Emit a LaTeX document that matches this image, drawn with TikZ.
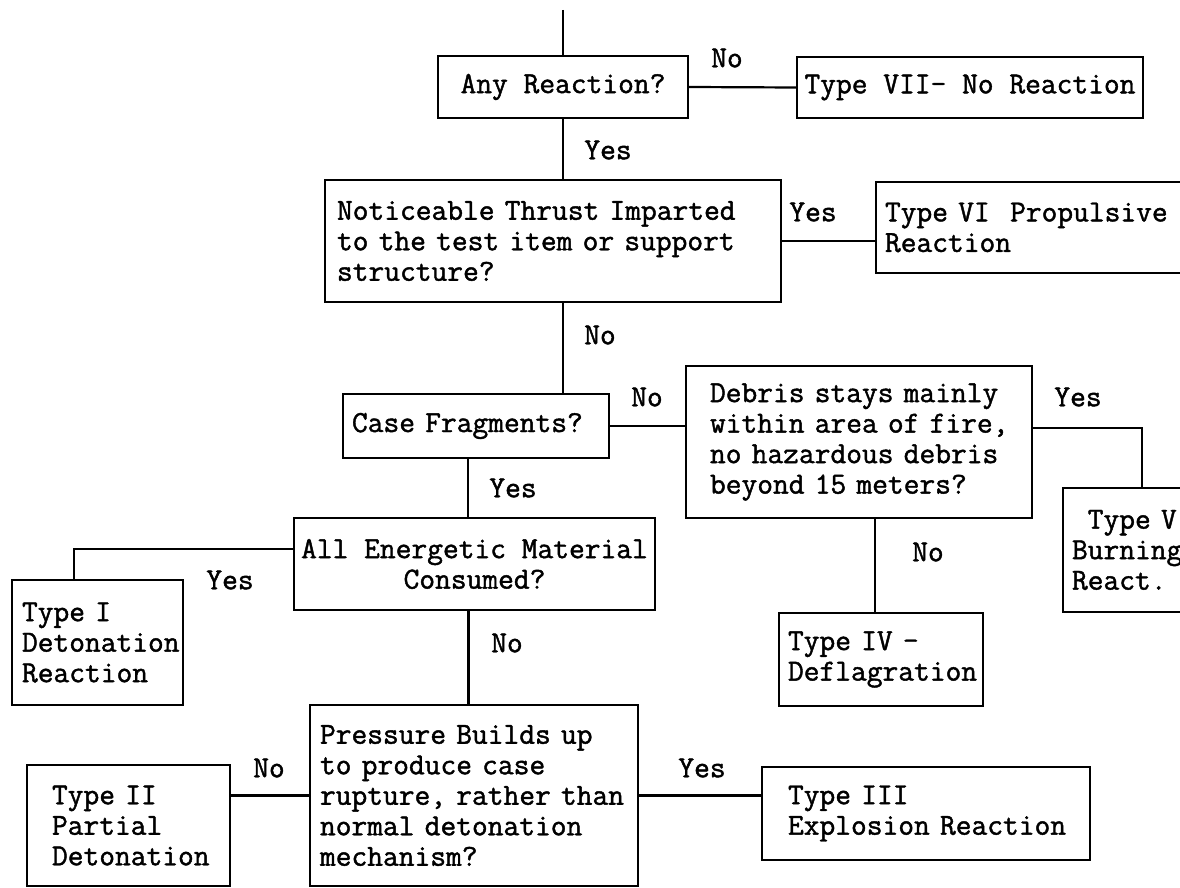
\documentclass[tikz,border=0pt]{standalone}
\usepackage{fontspec}
\setmonofont{Latin Modern Mono}[FakeBold=1.4]
\newcommand\tfont{\fontsize{15.3}{15.25}\selectfont\ttfamily}
\newcommand\lft[1]{\leavevmode\rlap{#1}}
\tikzset{
  box/.style={draw, line width=1.1pt, inner ysep=0pt, font=\tfont},
  cbox/.style={box, align=center, inner xsep=0pt},
  lbox/.style={box, align=left},
  lbl/.style={font=\tfont, inner sep=0pt},
  conn/.style={line width=1.1pt},
}
\begin{document}
\begin{tikzpicture}[x=0.5pt,y=-0.5pt]
\useasboundingbox (0,0) rectangle (1180,888);
\clip (0,0) rectangle (1180,888);
\fill[white] (0,0) rectangle (1180,888);

% boxes
\node[cbox, minimum width=125pt, minimum height=31pt] (any) at (563,87) {Any Reaction?};
\node[cbox, minimum width=173pt, minimum height=30.5pt] (t7) at (970,87.5) {Type VII- No Reaction};
\node[lbox, inner xsep=6pt, text width=216pt, minimum height=61pt] (notice) at (553,241) {\lft{Noticeable Thrust Imparted}\\\lft{to the test item or support}\\\lft{structure?}};
\node[lbox, inner xsep=4.5pt, text width=203pt, minimum height=45.5pt] (t6) at (1088,227.5) {\lft{Type VI\ \ Propulsive}\\\lft{Reaction}};
\node[lbox, inner xsep=4.5pt, text width=124pt, minimum height=32pt] (case) at (476,426) {\lft{Case Fragments?}};
\node[lbox, inner xsep=12pt, text width=149pt, minimum height=76pt] (debris) at (859,442) {\lft{Debris stays mainly}\\\lft{within area of fire,}\\\lft{no hazardous debris}\\\lft{beyond 15 meters?}};
\node[lbox, inner xsep=4.5pt, text width=70pt, minimum height=62pt] (t5) at (1142,550) {\lft{\hphantom{T}Type V}\\\lft{Burning}\\\lft{React.}};
\node[cbox, minimum width=180.5pt, minimum height=46pt] (all) at (474.5,564) {All Energetic Material\\Consumed?};
\node[lbox, inner xsep=5pt, text width=75.5pt, minimum height=62.5pt] (t1) at (97.5,642.5) {\lft{Type I}\\\lft{Detonation}\\\lft{Reaction}};
\node[lbox, inner xsep=4.5pt, text width=93pt, minimum height=46.5pt] (t4) at (881,659.5) {\lft{Type IV -}\\\lft{Deflagration}};
\node[lbox, inner xsep=5pt, text width=154pt, minimum height=90.5pt] (press) at (474,795.5) {\lft{Pressure Builds up}\\\lft{to produce case}\\\lft{rupture, rather than}\\\lft{normal detonation}\\\lft{mechanism?}};
\node[lbox, inner xsep=12.5pt, text width=76.5pt, minimum height=60.5pt] (t2) at (128.5,825.5) {\lft{Type II}\\\lft{Partial}\\\lft{Detonation}};
\node[lbox, inner xsep=13pt, text width=138pt, minimum height=46.5pt] (t3) at (926,813.5) {\lft{Type III}\\\lft{Explosion Reaction}};

% connectors
\coordinate (start) at (563,10);
\draw[conn] (start) -- (any.north);
\draw[conn] (any.east) -- (t7.west);
\draw[conn] (any.south) -- (any.south |- notice.north);
\draw[conn] (notice.east) -- (notice.east -| t6.west);
\draw[conn] (any.south |- notice.south) -- (any.south |- case.north);
\draw[conn] (case.east) -- (case.east -| debris.west);
\draw[conn] ([xshift=-4pt]case.south) -- ([xshift=-4pt]case.south |- all.north);
\draw[conn] ([yshift=7.5pt]all.west) -| ([xshift=-11.75pt]t1.north);
\draw[conn] ([yshift=7pt]debris.east) -| (t5.north);
\draw[conn] ([xshift=8pt]debris.south) -- ([xshift=8pt]debris.south |- t4.north);
\draw[conn] ([xshift=-3pt]all.south) -- ([xshift=-3pt]all.south |- press.north);
\draw[conn] (press.west) -- (press.west -| t2.east);
\draw[conn] (press.east) -- (press.east -| t3.west);

% labels
\node[lbl] (l1) at (727,58) {No};
\node[lbl] (l2) at (608,150) {Yes};
\node[lbl] (l3) at (813,212) {Yes};
\node[lbl] (l4) at (600,335) {No};
\node[lbl] (l5) at (647,397) {No};
\node[lbl] (l6) at (513,488) {Yes};
\node[lbl] (l7) at (1078,397) {Yes};
\node[lbl] (l8) at (928,552) {No};
\node[lbl] (l9) at (230,580) {Yes};
\node[lbl] (l10) at (507,643) {No};
\node[lbl] (l11) at (269,768) {No};
\node[lbl] (l12) at (702,768) {Yes};
\end{tikzpicture}
\end{document}
